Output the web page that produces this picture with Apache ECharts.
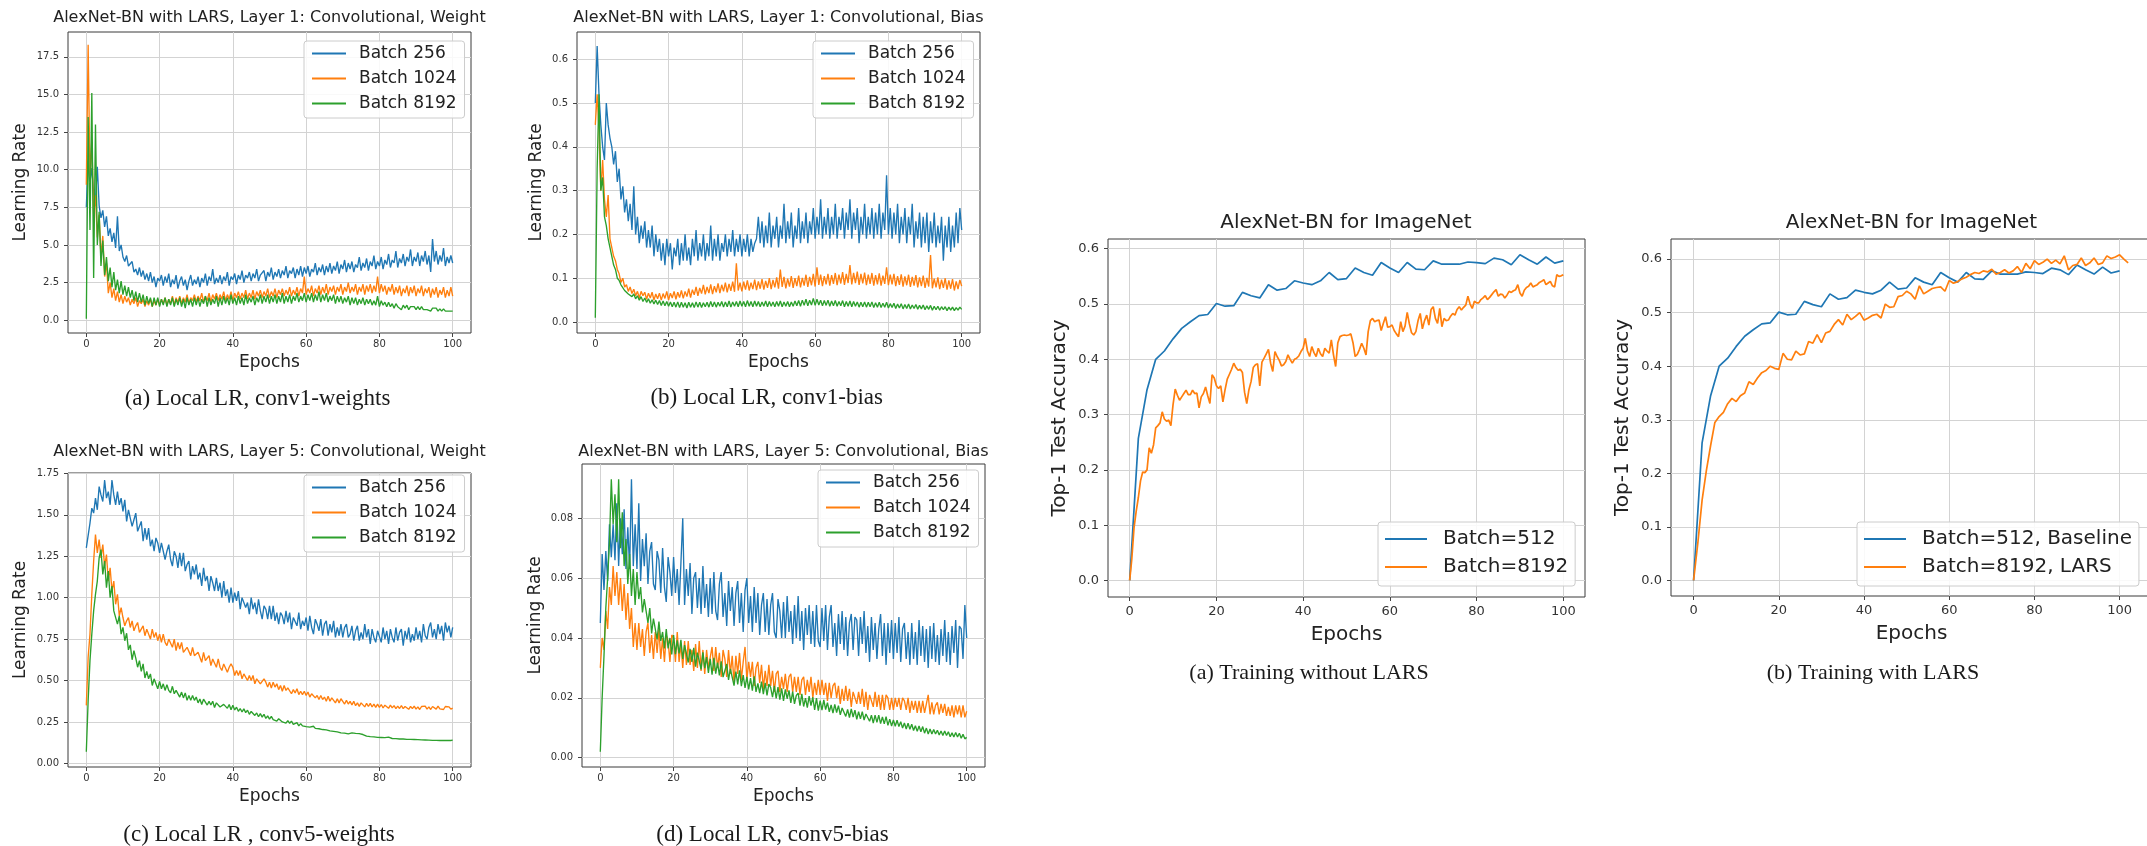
<!DOCTYPE html>
<html>
<head>
<meta charset="utf-8">
<script src="https://cdn.jsdelivr.net/npm/echarts@6/dist/echarts.min.js"></script>
<style>
  html, body { margin: 0; padding: 0; background: #ffffff; }
  #chart { width: 2147px; height: 846px; }
</style>
</head>
<body>
<div id="chart"></div>
<script>
// ---------- sampling grids (epochs) ----------
const halfEpochs = [];
for (let i = 0; i <= 200; i++) halfEpochs.push(i / 2);
const evalEpochs = [];
for (let e = 0; e <= 100; e += 2) evalEpochs.push(e);
const larsEpochs = [];
for (let e = 0; e <= 102; e++) larsEpochs.push(e);

// ---------- tick labels ----------
const epochTicks = [0, 20, 40, 60, 80, 100];
const ticksConv1W = [0, 2.5, 5, 7.5, 10, 12.5, 15, 17.5];
const ticksConv1B = [0, 0.1, 0.2, 0.3, 0.4, 0.5, 0.6];
const ticksConv5W = [0, 0.25, 0.5, 0.75, 1, 1.25, 1.5, 1.75];
const ticksConv5B = [0, 0.02, 0.04, 0.06, 0.08];
const ticksAcc = [0, 0.1, 0.2, 0.3, 0.4, 0.5, 0.6];

// ---------- local LR, layer 1 weights ----------
const conv1WeightB256 = [
  7.5, 10.6, 9.2, 10.1, 8.4, 7.9, 10.2, 7.6, 6.8, 7.3, 6.2, 6.9, 5.6, 6.1, 5.2, 5.8, 4.8, 6.9, 4.6, 5.0,
  4.2, 3.9, 4.3, 3.6, 3.5, 3.9, 3.2, 3.4, 3.0, 3.5, 2.9, 3.3, 2.7, 3.1, 2.6, 3.2, 2.5, 2.9, 2.2, 2.8,
  2.6, 3.0, 2.3, 2.9, 2.5, 3.1, 2.2, 2.7, 2.4, 3.0, 2.1, 2.6, 2.9, 2.3, 2.7, 2.0, 2.6, 3.0, 2.3, 2.7,
  2.4, 2.9, 2.2, 2.8, 2.5, 3.1, 2.3, 2.9, 2.6, 3.4, 2.4, 2.8, 2.5, 3.0, 2.4, 2.9, 2.6, 3.2, 2.3, 2.9,
  2.7, 3.1, 2.4, 3.0, 2.7, 3.3, 2.5, 3.0, 2.8, 3.2, 2.6, 3.1, 2.8, 3.4, 2.6, 3.0, 2.9, 3.3, 2.6, 3.2,
  2.9, 3.5, 2.7, 3.2, 2.9, 3.4, 2.8, 3.3, 3.0, 3.6, 2.8, 3.3, 3.1, 3.5, 2.8, 3.4, 3.0, 3.6, 2.9, 3.5,
  3.1, 3.6, 2.9, 3.4, 3.2, 3.8, 3.0, 3.5, 3.2, 3.7, 3.0, 3.6, 3.2, 3.8, 3.1, 3.6, 3.3, 3.9, 3.1, 3.7,
  3.4, 4.0, 3.2, 3.8, 3.4, 3.9, 3.2, 3.7, 3.5, 4.2, 3.3, 3.8, 3.5, 4.1, 3.3, 3.9, 3.6, 4.3, 3.4, 3.9,
  3.6, 4.2, 3.4, 4.0, 3.7, 4.4, 3.5, 4.0, 3.8, 4.6, 3.5, 4.1, 3.8, 4.4, 3.6, 4.2, 3.9, 4.7, 3.6, 4.2,
  3.9, 4.5, 3.6, 4.3, 3.9, 4.6, 3.7, 4.3, 3.2, 5.4, 3.9, 4.6, 3.7, 4.3, 3.9, 4.8, 3.6, 4.2, 3.8, 4.3,
  3.8
];
const conv1WeightB1024 = [
  9.0, 18.3, 9.5, 12.0, 7.0, 8.3, 5.5, 7.0, 4.2, 5.6, 2.9, 3.8, 1.8, 2.5, 1.5, 2.1, 1.3, 1.9, 1.2, 1.7,
  1.1, 1.6, 1.2, 1.5, 1.0, 1.4, 1.1, 1.5, 0.9, 1.3, 1.1, 1.4, 0.9, 1.3, 1.0, 1.4, 0.9, 1.3, 1.0, 1.4,
  1.0, 1.4, 1.1, 1.5, 1.0, 1.4, 1.1, 1.6, 1.0, 1.5, 1.2, 1.6, 1.1, 1.5, 1.2, 1.7, 1.1, 1.5, 1.3, 1.7,
  1.2, 1.6, 1.3, 1.8, 1.2, 1.6, 1.3, 1.8, 1.2, 1.7, 1.4, 1.8, 1.3, 1.7, 1.4, 1.9, 1.3, 1.7, 1.4, 1.9,
  1.3, 1.8, 1.5, 1.9, 1.4, 1.8, 1.5, 2.0, 1.4, 1.8, 1.5, 2.0, 1.4, 1.9, 1.6, 2.0, 1.5, 1.9, 1.6, 2.1,
  1.5, 1.9, 1.6, 2.1, 1.5, 2.0, 1.7, 2.1, 1.6, 2.0, 1.7, 2.2, 1.6, 2.0, 1.7, 2.2, 1.6, 2.1, 1.8, 2.9,
  1.7, 2.1, 1.8, 2.3, 1.6, 2.1, 1.8, 2.3, 1.7, 2.2, 1.8, 2.4, 1.7, 2.2, 1.9, 2.3, 1.7, 2.2, 1.9, 2.4,
  1.7, 2.2, 1.9, 2.5, 1.8, 2.2, 1.9, 2.4, 1.7, 2.2, 1.9, 2.4, 1.7, 2.3, 1.9, 2.4, 1.8, 2.3, 1.9, 2.9,
  1.8, 2.4, 1.9, 2.3, 1.7, 2.2, 1.9, 2.4, 1.7, 2.2, 1.8, 2.3, 1.6, 2.1, 1.8, 2.3, 1.6, 2.2, 1.8, 2.3,
  1.6, 2.1, 1.8, 2.3, 1.6, 2.1, 1.8, 2.2, 1.5, 2.1, 1.7, 2.2, 1.5, 2.0, 1.7, 2.2, 1.5, 2.0, 1.6, 2.2,
  1.6
];
const conv1WeightB8192 = [
  0.1, 13.5, 6.0, 15.1, 2.8, 13.0, 5.0, 7.2, 3.6, 5.3, 3.0, 4.2, 2.6, 3.5, 2.2, 3.2, 2.0, 2.7, 1.8, 2.6,
  1.7, 2.3, 1.6, 2.2, 1.5, 2.0, 1.3, 1.9, 1.2, 1.8, 1.2, 1.7, 1.0, 1.6, 1.1, 1.5, 0.9, 1.5, 1.0, 1.5,
  0.9, 1.4, 1.0, 1.5, 0.9, 1.4, 1.0, 1.5, 0.9, 1.4, 1.0, 1.5, 0.9, 1.4, 0.8, 1.5, 1.0, 1.4, 0.9, 1.5,
  1.0, 1.5, 0.9, 1.4, 1.1, 1.6, 0.9, 1.5, 1.0, 1.4, 1.1, 1.6, 0.9, 1.5, 1.0, 1.6, 1.1, 1.5, 1.0, 1.7,
  1.1, 1.5, 1.0, 1.6, 1.1, 1.5, 1.0, 1.7, 1.1, 1.5, 1.2, 1.6, 1.0, 1.5, 1.2, 1.7, 1.1, 1.6, 1.2, 1.7,
  1.1, 1.6, 1.2, 1.7, 1.1, 1.6, 1.2, 1.8, 1.1, 1.6, 1.2, 1.7, 1.1, 1.6, 1.3, 1.8, 1.2, 1.6, 1.3, 1.8,
  1.2, 1.7, 1.3, 1.8, 1.2, 1.7, 1.3, 1.9, 1.2, 1.7, 1.3, 1.8, 1.2, 1.6, 1.3, 1.7, 1.1, 1.6, 1.2, 1.6,
  1.1, 1.5, 1.2, 1.6, 1.0, 1.5, 1.1, 1.5, 1.0, 1.4, 1.1, 1.5, 1.0, 1.4, 1.1, 1.4, 1.0, 1.3, 1.0, 1.6,
  0.9, 1.3, 1.0, 1.2, 0.9, 1.2, 0.9, 1.1, 0.8, 1.1, 0.9, 1.0, 0.7, 1.0, 0.8, 1.0, 0.7, 0.9, 0.8, 0.9,
  0.7, 0.9, 0.7, 0.9, 0.7, 0.8, 0.7, 0.8, 0.6, 0.8, 0.7, 0.8, 0.6, 0.75, 0.6, 0.75, 0.6, 0.7, 0.6, 0.7,
  0.6
];

// ---------- local LR, layer 1 bias ----------
const conv1BiasB256 = [
  0.50, 0.63, 0.52, 0.45, 0.40, 0.37, 0.50, 0.45, 0.42, 0.40, 0.36, 0.39, 0.32, 0.35, 0.28, 0.31, 0.25, 0.28, 0.23, 0.27,
  0.21, 0.31, 0.20, 0.24, 0.18, 0.22, 0.19, 0.23, 0.17, 0.21, 0.17, 0.22, 0.15, 0.20, 0.16, 0.19, 0.14, 0.18, 0.13, 0.19,
  0.15, 0.18, 0.12, 0.17, 0.15, 0.19, 0.13, 0.18, 0.14, 0.20, 0.14, 0.17, 0.13, 0.19, 0.15, 0.21, 0.14, 0.18, 0.15, 0.20,
  0.14, 0.18, 0.15, 0.22, 0.14, 0.19, 0.15, 0.20, 0.14, 0.18, 0.16, 0.20, 0.15, 0.19, 0.16, 0.21, 0.15, 0.19, 0.16, 0.20,
  0.15, 0.19, 0.16, 0.20, 0.15, 0.19, 0.16, 0.18, 0.19, 0.24, 0.18, 0.23, 0.17, 0.22, 0.18, 0.25, 0.17, 0.22, 0.19, 0.24,
  0.17, 0.22, 0.19, 0.27, 0.18, 0.23, 0.19, 0.25, 0.17, 0.22, 0.19, 0.26, 0.18, 0.23, 0.19, 0.25, 0.18, 0.23, 0.20, 0.26,
  0.19, 0.24, 0.20, 0.28, 0.19, 0.24, 0.20, 0.26, 0.19, 0.24, 0.20, 0.27, 0.19, 0.24, 0.21, 0.26, 0.19, 0.25, 0.21, 0.28,
  0.19, 0.25, 0.21, 0.26, 0.18, 0.24, 0.20, 0.27, 0.19, 0.24, 0.20, 0.26, 0.19, 0.25, 0.20, 0.27, 0.19, 0.25, 0.21, 0.335,
  0.20, 0.26, 0.19, 0.25, 0.20, 0.27, 0.18, 0.24, 0.20, 0.26, 0.18, 0.24, 0.20, 0.27, 0.17, 0.23, 0.19, 0.25, 0.17, 0.24,
  0.18, 0.25, 0.16, 0.23, 0.18, 0.25, 0.17, 0.22, 0.18, 0.24, 0.14, 0.22, 0.17, 0.24, 0.16, 0.22, 0.17, 0.25, 0.18, 0.26,
  0.21
];
const conv1BiasB1024 = [
  0.45, 0.52, 0.44, 0.30, 0.37, 0.28, 0.24, 0.29, 0.19, 0.17, 0.15, 0.14, 0.12, 0.11, 0.09, 0.10, 0.08, 0.085, 0.07, 0.08,
  0.065, 0.075, 0.06, 0.07, 0.055, 0.07, 0.06, 0.068, 0.052, 0.066, 0.055, 0.068, 0.05, 0.064, 0.053, 0.066, 0.05, 0.065, 0.054, 0.07,
  0.05, 0.066, 0.055, 0.07, 0.052, 0.068, 0.056, 0.072, 0.054, 0.07, 0.058, 0.076, 0.056, 0.074, 0.062, 0.08, 0.06, 0.078, 0.065, 0.085,
  0.063, 0.08, 0.066, 0.086, 0.064, 0.082, 0.068, 0.088, 0.066, 0.085, 0.07, 0.09, 0.068, 0.087, 0.071, 0.092, 0.069, 0.134, 0.072, 0.09,
  0.07, 0.092, 0.074, 0.095, 0.072, 0.09, 0.075, 0.097, 0.073, 0.093, 0.076, 0.098, 0.074, 0.094, 0.078, 0.1, 0.075, 0.096, 0.079, 0.102,
  0.076, 0.12, 0.08, 0.103, 0.077, 0.099, 0.081, 0.105, 0.078, 0.1, 0.082, 0.106, 0.079, 0.101, 0.083, 0.108, 0.08, 0.103, 0.084, 0.11,
  0.081, 0.125, 0.085, 0.108, 0.082, 0.105, 0.086, 0.11, 0.083, 0.107, 0.087, 0.112, 0.084, 0.108, 0.088, 0.114, 0.085, 0.11, 0.089, 0.13,
  0.086, 0.112, 0.089, 0.115, 0.085, 0.11, 0.088, 0.113, 0.084, 0.108, 0.087, 0.112, 0.083, 0.107, 0.086, 0.111, 0.083, 0.106, 0.087, 0.125,
  0.084, 0.108, 0.086, 0.11, 0.082, 0.105, 0.085, 0.109, 0.081, 0.104, 0.084, 0.108, 0.08, 0.103, 0.083, 0.107, 0.079, 0.102, 0.082, 0.106,
  0.078, 0.101, 0.081, 0.153, 0.077, 0.099, 0.079, 0.102, 0.075, 0.097, 0.078, 0.1, 0.074, 0.095, 0.076, 0.098, 0.072, 0.093, 0.075, 0.096,
  0.082
];
const conv1BiasB8192 = [
  0.01, 0.35, 0.52, 0.30, 0.33, 0.24, 0.22, 0.19, 0.17, 0.15, 0.13, 0.12, 0.10, 0.095, 0.085, 0.082, 0.072, 0.075, 0.064, 0.068,
  0.058, 0.064, 0.053, 0.06, 0.05, 0.058, 0.047, 0.055, 0.045, 0.053, 0.043, 0.051, 0.041, 0.05, 0.04, 0.049, 0.038, 0.048, 0.037, 0.047,
  0.036, 0.046, 0.035, 0.045, 0.034, 0.046, 0.033, 0.045, 0.034, 0.044, 0.032, 0.045, 0.034, 0.044, 0.033, 0.046, 0.034, 0.045, 0.033, 0.044,
  0.035, 0.045, 0.034, 0.047, 0.035, 0.046, 0.034, 0.045, 0.036, 0.047, 0.034, 0.046, 0.035, 0.048, 0.034, 0.046, 0.036, 0.047, 0.035, 0.048,
  0.036, 0.047, 0.035, 0.049, 0.036, 0.047, 0.035, 0.048, 0.036, 0.047, 0.035, 0.046, 0.036, 0.048, 0.035, 0.047, 0.036, 0.046, 0.035, 0.047,
  0.036, 0.048, 0.035, 0.046, 0.036, 0.047, 0.035, 0.046, 0.036, 0.048, 0.037, 0.049, 0.036, 0.05, 0.038, 0.052, 0.037, 0.05, 0.039, 0.054,
  0.038, 0.052, 0.039, 0.05, 0.037, 0.049, 0.038, 0.05, 0.036, 0.048, 0.037, 0.049, 0.036, 0.047, 0.037, 0.049, 0.035, 0.047, 0.036, 0.048,
  0.035, 0.047, 0.036, 0.046, 0.034, 0.045, 0.035, 0.046, 0.034, 0.045, 0.035, 0.046, 0.033, 0.044, 0.034, 0.045, 0.033, 0.043, 0.034, 0.045,
  0.032, 0.042, 0.033, 0.043, 0.031, 0.041, 0.032, 0.042, 0.03, 0.04, 0.031, 0.041, 0.03, 0.039, 0.031, 0.04, 0.029, 0.038, 0.03, 0.039,
  0.028, 0.037, 0.029, 0.038, 0.027, 0.036, 0.028, 0.036, 0.027, 0.035, 0.028, 0.035, 0.026, 0.034, 0.027, 0.034, 0.026, 0.033, 0.027, 0.034,
  0.029
];

// ---------- local LR, layer 5 weights ----------
const conv5WeightB256 = [
  1.30, 1.31, 1.45, 1.54, 1.51, 1.60, 1.53, 1.67, 1.62, 1.58, 1.71, 1.60, 1.64, 1.56, 1.71, 1.62, 1.56, 1.64, 1.56, 1.60,
  1.52, 1.59, 1.46, 1.53, 1.53, 1.43, 1.47, 1.51, 1.40, 1.41, 1.46, 1.34, 1.42, 1.35, 1.42, 1.31, 1.35, 1.28, 1.36, 1.33,
  1.27, 1.33, 1.34, 1.23, 1.28, 1.32, 1.23, 1.19, 1.28, 1.25, 1.18, 1.27, 1.19, 1.27, 1.16, 1.20, 1.22, 1.11, 1.19, 1.14,
  1.20, 1.11, 1.15, 1.07, 1.18, 1.10, 1.13, 1.04, 1.13, 1.09, 1.04, 1.12, 1.04, 1.09, 1.00, 1.10, 1.01, 1.05, 0.97, 1.06,
  0.97, 1.03, 0.98, 1.04, 0.93, 1.00, 1.01, 0.94, 0.97, 0.90, 1.00, 0.93, 0.97, 0.90, 0.99, 0.92, 0.87, 0.95, 0.93, 0.87,
  0.95, 0.87, 0.95, 0.86, 0.91, 0.84, 0.91, 0.89, 0.84, 0.92, 0.85, 0.91, 0.81, 0.88, 0.89, 0.83, 0.91, 0.81, 0.86, 0.83,
  0.88, 0.80, 0.89, 0.82, 0.78, 0.87, 0.84, 0.80, 0.87, 0.77, 0.84, 0.86, 0.77, 0.84, 0.79, 0.86, 0.76, 0.82, 0.77, 0.84,
  0.76, 0.82, 0.84, 0.76, 0.78, 0.83, 0.74, 0.80, 0.83, 0.74, 0.79, 0.75, 0.84, 0.76, 0.81, 0.72, 0.81, 0.76, 0.73, 0.80,
  0.79, 0.73, 0.82, 0.75, 0.80, 0.72, 0.81, 0.76, 0.73, 0.82, 0.74, 0.79, 0.81, 0.71, 0.80, 0.75, 0.82, 0.73, 0.78, 0.74,
  0.82, 0.75, 0.80, 0.73, 0.84, 0.77, 0.75, 0.82, 0.85, 0.76, 0.81, 0.75, 0.84, 0.78, 0.83, 0.74, 0.85, 0.79, 0.83, 0.76,
  0.82
];
const conv5WeightB1024 = [
  0.35, 0.64, 0.78, 1.02, 1.22, 1.38, 1.27, 1.35, 1.24, 1.32, 1.19, 1.26, 1.10, 1.18, 1.04, 1.10, 0.96, 1.02, 0.89, 0.94,
  0.88, 0.83, 0.86, 0.88, 0.82, 0.86, 0.80, 0.83, 0.85, 0.79, 0.80, 0.83, 0.77, 0.81, 0.80, 0.75, 0.81, 0.76, 0.79, 0.74,
  0.78, 0.73, 0.78, 0.73, 0.71, 0.75, 0.74, 0.70, 0.75, 0.68, 0.73, 0.69, 0.73, 0.67, 0.66, 0.70, 0.69, 0.65, 0.70, 0.65,
  0.64, 0.67, 0.66, 0.61, 0.67, 0.62, 0.61, 0.65, 0.59, 0.63, 0.62, 0.58, 0.63, 0.58, 0.56, 0.60, 0.60, 0.55, 0.58, 0.60,
  0.58, 0.53, 0.56, 0.53, 0.56, 0.51, 0.54, 0.54, 0.50, 0.53, 0.50, 0.53, 0.48, 0.51, 0.52, 0.48, 0.47, 0.51, 0.49, 0.46,
  0.49, 0.455, 0.49, 0.46, 0.48, 0.445, 0.47, 0.435, 0.47, 0.44, 0.455, 0.455, 0.42, 0.445, 0.425, 0.45, 0.415, 0.435, 0.415, 0.435,
  0.41, 0.43, 0.40, 0.42, 0.425, 0.395, 0.41, 0.385, 0.41, 0.385, 0.40, 0.375, 0.405, 0.375, 0.395, 0.395, 0.365, 0.39, 0.365, 0.39,
  0.382, 0.358, 0.38, 0.358, 0.374, 0.352, 0.374, 0.348, 0.365, 0.344, 0.365, 0.36, 0.341, 0.362, 0.343, 0.362, 0.34, 0.357, 0.338, 0.357,
  0.337, 0.355, 0.334, 0.351, 0.349, 0.332, 0.351, 0.335, 0.348, 0.33, 0.345, 0.331, 0.348, 0.33, 0.343, 0.345, 0.326, 0.344, 0.33, 0.345,
  0.327, 0.341, 0.325, 0.343, 0.331, 0.345, 0.327, 0.341, 0.325, 0.343, 0.339, 0.327, 0.345, 0.329, 0.341, 0.325, 0.343, 0.331, 0.341, 0.327,
  0.333
];
const conv5WeightB8192 = [
  0.07, 0.38, 0.62, 0.78, 0.92, 1.02, 1.10, 1.24, 1.29, 1.14, 1.22, 1.06, 1.16, 1.00, 1.07, 0.92, 0.93, 0.84, 0.89, 0.78,
  0.82, 0.74, 0.785, 0.685, 0.715, 0.625, 0.68, 0.635, 0.58, 0.62, 0.555, 0.60, 0.515, 0.555, 0.51, 0.54, 0.47, 0.51, 0.51, 0.45,
  0.495, 0.45, 0.48, 0.44, 0.475, 0.44, 0.425, 0.465, 0.42, 0.44, 0.445, 0.40, 0.43, 0.395, 0.425, 0.38, 0.41, 0.38, 0.41, 0.38,
  0.40, 0.365, 0.388, 0.355, 0.387, 0.38, 0.352, 0.374, 0.352, 0.375, 0.337, 0.365, 0.367, 0.34, 0.333, 0.356, 0.364, 0.332, 0.355, 0.323,
  0.35, 0.322, 0.339, 0.314, 0.331, 0.31, 0.329, 0.306, 0.321, 0.296, 0.313, 0.312, 0.289, 0.304, 0.281, 0.30, 0.279, 0.296, 0.271, 0.286,
  0.267, 0.283, 0.264, 0.276, 0.255, 0.269, 0.27, 0.25, 0.261, 0.243, 0.258, 0.242, 0.255, 0.235, 0.246, 0.246, 0.226, 0.24, 0.226, 0.238,
  0.222, 0.234, 0.219, 0.228, 0.224, 0.211, 0.223, 0.209, 0.218, 0.204, 0.213, 0.202, 0.211, 0.196, 0.204, 0.193, 0.202, 0.19, 0.197, 0.184,
  0.193, 0.182, 0.189, 0.178, 0.185, 0.184, 0.174, 0.181, 0.173, 0.179, 0.169, 0.174, 0.174, 0.164, 0.17, 0.161, 0.169, 0.16, 0.165, 0.157,
  0.163, 0.156, 0.162, 0.155, 0.153, 0.158, 0.156, 0.15, 0.155, 0.149, 0.153, 0.147, 0.151, 0.147, 0.151, 0.145, 0.149, 0.145, 0.149, 0.144,
  0.147, 0.143, 0.147, 0.142, 0.145, 0.141, 0.144, 0.14, 0.145, 0.139, 0.143, 0.139, 0.143, 0.138, 0.142, 0.138, 0.143, 0.138, 0.142, 0.138,
  0.14
];

// ---------- local LR, layer 5 bias ----------
const conv5BiasB256 = [
  0.045, 0.068, 0.056, 0.069, 0.059, 0.078, 0.067, 0.078, 0.066, 0.085, 0.064, 0.080, 0.068, 0.083, 0.063, 0.077, 0.063, 0.093, 0.064, 0.078,
  0.063, 0.085, 0.059, 0.073, 0.064, 0.075, 0.058, 0.069, 0.072, 0.058, 0.056, 0.069, 0.066, 0.055, 0.070, 0.057, 0.052, 0.067, 0.062, 0.054,
  0.067, 0.055, 0.063, 0.051, 0.065, 0.080, 0.051, 0.063, 0.054, 0.065, 0.048, 0.060, 0.062, 0.050, 0.060, 0.048, 0.064, 0.050, 0.058, 0.047,
  0.060, 0.048, 0.062, 0.049, 0.046, 0.058, 0.062, 0.047, 0.055, 0.044, 0.059, 0.049, 0.057, 0.044, 0.055, 0.059, 0.045, 0.055, 0.042, 0.056,
  0.060, 0.045, 0.054, 0.042, 0.057, 0.045, 0.055, 0.041, 0.051, 0.055, 0.042, 0.053, 0.041, 0.051, 0.055, 0.042, 0.040, 0.053, 0.049, 0.040,
  0.052, 0.040, 0.054, 0.042, 0.049, 0.038, 0.051, 0.040, 0.054, 0.039, 0.049, 0.036, 0.050, 0.041, 0.051, 0.038, 0.049, 0.037, 0.051, 0.039,
  0.037, 0.050, 0.039, 0.051, 0.036, 0.047, 0.051, 0.037, 0.045, 0.034, 0.048, 0.038, 0.049, 0.036, 0.047, 0.034, 0.045, 0.048, 0.036, 0.047,
  0.046, 0.034, 0.047, 0.038, 0.049, 0.035, 0.044, 0.032, 0.047, 0.036, 0.045, 0.033, 0.043, 0.048, 0.034, 0.045, 0.031, 0.045, 0.035, 0.046,
  0.033, 0.045, 0.035, 0.047, 0.032, 0.043, 0.045, 0.033, 0.042, 0.031, 0.045, 0.033, 0.042, 0.031, 0.046, 0.034, 0.044, 0.032, 0.043, 0.030,
  0.044, 0.033, 0.045, 0.032, 0.041, 0.031, 0.043, 0.034, 0.046, 0.032, 0.042, 0.031, 0.044, 0.035, 0.046, 0.030, 0.044, 0.043, 0.033, 0.051,
  0.040
];
const conv5BiasB1024 = [
  0.030, 0.040, 0.036, 0.049, 0.043, 0.057, 0.051, 0.064, 0.054, 0.062, 0.051, 0.060, 0.049, 0.058, 0.046, 0.055, 0.043, 0.050, 0.037, 0.045,
  0.036, 0.045, 0.037, 0.043, 0.034, 0.042, 0.045, 0.035, 0.041, 0.033, 0.042, 0.035, 0.043, 0.033, 0.040, 0.032, 0.041, 0.039, 0.032, 0.041,
  0.040, 0.032, 0.042, 0.032, 0.038, 0.030, 0.039, 0.031, 0.039, 0.031, 0.036, 0.029, 0.038, 0.030, 0.039, 0.029, 0.036, 0.028, 0.036, 0.030,
  0.030, 0.037, 0.029, 0.037, 0.030, 0.035, 0.027, 0.036, 0.033, 0.027, 0.036, 0.028, 0.034, 0.025, 0.034, 0.028, 0.035, 0.026, 0.032, 0.037,
  0.026, 0.032, 0.027, 0.032, 0.024, 0.030, 0.032, 0.025, 0.031, 0.023, 0.029, 0.024, 0.031, 0.024, 0.029, 0.022, 0.028, 0.029, 0.022, 0.027,
  0.023, 0.028, 0.022, 0.027, 0.028, 0.022, 0.027, 0.022, 0.027, 0.021, 0.026, 0.027, 0.021, 0.026, 0.022, 0.027, 0.020, 0.025, 0.021, 0.026,
  0.021, 0.026, 0.021, 0.025, 0.019, 0.025, 0.020, 0.024, 0.025, 0.020, 0.024, 0.018, 0.023, 0.019, 0.024, 0.019, 0.023, 0.017, 0.022, 0.022,
  0.018, 0.022, 0.018, 0.023, 0.017, 0.022, 0.016, 0.021, 0.021, 0.017, 0.022, 0.017, 0.021, 0.016, 0.021, 0.016, 0.021, 0.020, 0.016, 0.020,
  0.016, 0.020, 0.017, 0.020, 0.016, 0.020, 0.019, 0.016, 0.020, 0.015, 0.019, 0.016, 0.019, 0.015, 0.019, 0.015, 0.019, 0.015, 0.018, 0.021,
  0.0145, 0.0185, 0.0145, 0.0175, 0.0185, 0.0145, 0.018, 0.015, 0.018, 0.014, 0.017, 0.014, 0.0175, 0.0135, 0.0175, 0.0145, 0.0175, 0.0135, 0.0175, 0.0135,
  0.0155
];
const conv5BiasB8192 = [
  0.002, 0.020, 0.034, 0.050, 0.060, 0.072, 0.093, 0.078, 0.088, 0.072, 0.093, 0.070, 0.082, 0.064, 0.073, 0.058, 0.068, 0.054, 0.063, 0.051,
  0.062, 0.053, 0.057, 0.0485, 0.053, 0.0535, 0.045, 0.050, 0.0415, 0.0465, 0.0465, 0.0395, 0.0455, 0.039, 0.042, 0.0365, 0.043, 0.0365, 0.040, 0.0345,
  0.041, 0.0346, 0.0392, 0.0348, 0.0394, 0.033, 0.0376, 0.0382, 0.0318, 0.0364, 0.032, 0.0367, 0.0304, 0.0351, 0.0348, 0.0295, 0.0352, 0.0299, 0.0336, 0.0283,
  0.033, 0.0277, 0.0334, 0.0281, 0.0318, 0.0275, 0.0322, 0.0269, 0.0266, 0.0313, 0.026, 0.0297, 0.0294, 0.0241, 0.0288, 0.0245, 0.0292, 0.0239, 0.0276, 0.0233,
  0.027, 0.0228, 0.0266, 0.0224, 0.0272, 0.022, 0.0248, 0.0216, 0.0254, 0.0212, 0.025, 0.0208, 0.0246, 0.0234, 0.0202, 0.024, 0.0198, 0.0236, 0.0194, 0.0232,
  0.019, 0.0228, 0.0197, 0.0225, 0.0183, 0.0221, 0.018, 0.0208, 0.0216, 0.0174, 0.0213, 0.0171, 0.0199, 0.0167, 0.0206, 0.0174, 0.0202, 0.016, 0.0199, 0.0157,
  0.0191, 0.0159, 0.0193, 0.0161, 0.0184, 0.0153, 0.0176, 0.0149, 0.0178, 0.0151, 0.0174, 0.0143, 0.0166, 0.0169, 0.0138, 0.0161, 0.0134, 0.0163, 0.0136, 0.0159,
  0.0128, 0.0154, 0.013, 0.0154, 0.0126, 0.0146, 0.015, 0.0122, 0.0142, 0.0116, 0.0142, 0.0118, 0.0142, 0.0114, 0.0136, 0.0113, 0.0137, 0.0108, 0.0129, 0.0106,
  0.0126, 0.0105, 0.0125, 0.0104, 0.012, 0.0099, 0.0116, 0.0096, 0.0115, 0.0095, 0.0112, 0.0091, 0.0107, 0.0088, 0.0106, 0.0087, 0.0104, 0.0082, 0.0099, 0.0079,
  0.0096, 0.0079, 0.0094, 0.0079, 0.0092, 0.0076, 0.0089, 0.0074, 0.0089, 0.0074, 0.0087, 0.007, 0.0083, 0.0069, 0.0084, 0.0069, 0.0082, 0.0065, 0.0078, 0.0063,
  0.0068
];

// ---------- top-1 test accuracy ----------
const accBatch512 = [
  0.000, 0.257, 0.345, 0.400, 0.415, 0.437, 0.456, 0.468, 0.479, 0.481,
  0.501, 0.496, 0.497, 0.521, 0.515, 0.511, 0.535, 0.525, 0.528, 0.542,
  0.538, 0.535, 0.542, 0.557, 0.544, 0.546, 0.565, 0.557, 0.552, 0.575,
  0.565, 0.557, 0.575, 0.563, 0.562, 0.578, 0.572, 0.572, 0.572, 0.576,
  0.575, 0.573, 0.583, 0.580, 0.571, 0.589, 0.580, 0.572, 0.585, 0.574,
  0.578
];
const accBatch8192NoLars = [
  0.000, 0.040, 0.095, 0.125, 0.150, 0.180, 0.196, 0.195, 0.200, 0.240, 0.230, 0.245, 0.276, 0.280, 0.285, 0.305, 0.292, 0.288, 0.290, 0.280,
  0.318, 0.346, 0.335, 0.326, 0.332, 0.338, 0.344, 0.336, 0.336, 0.344, 0.338, 0.339, 0.312, 0.332, 0.338, 0.350, 0.334, 0.320, 0.372, 0.366,
  0.352, 0.347, 0.352, 0.323, 0.345, 0.364, 0.373, 0.382, 0.393, 0.385, 0.380, 0.382, 0.376, 0.340, 0.320, 0.345, 0.360, 0.385, 0.390, 0.392,
  0.352, 0.395, 0.402, 0.410, 0.418, 0.393, 0.378, 0.414, 0.405, 0.398, 0.388, 0.390, 0.396, 0.408, 0.400, 0.393, 0.400, 0.402, 0.406, 0.414,
  0.420, 0.438, 0.415, 0.405, 0.423, 0.412, 0.405, 0.420, 0.410, 0.405, 0.420, 0.415, 0.411, 0.435, 0.408, 0.387, 0.430, 0.441, 0.443, 0.444,
  0.443, 0.444, 0.446, 0.430, 0.405, 0.409, 0.418, 0.429, 0.420, 0.408, 0.450, 0.470, 0.474, 0.468, 0.470, 0.471, 0.452, 0.465, 0.477, 0.458,
  0.459, 0.462, 0.452, 0.446, 0.441, 0.468, 0.450, 0.460, 0.485, 0.464, 0.448, 0.444, 0.450, 0.470, 0.483, 0.455, 0.470, 0.480, 0.462, 0.490,
  0.495, 0.474, 0.465, 0.492, 0.459, 0.474, 0.470, 0.471, 0.478, 0.483, 0.480, 0.490, 0.495, 0.489, 0.494, 0.498, 0.514, 0.500, 0.492, 0.505,
  0.502, 0.502, 0.508, 0.511, 0.515, 0.508, 0.512, 0.517, 0.522, 0.526, 0.514, 0.518, 0.517, 0.511, 0.516, 0.523, 0.521, 0.524, 0.526, 0.535,
  0.520, 0.514, 0.525, 0.530, 0.532, 0.538, 0.531, 0.533, 0.535, 0.539, 0.541, 0.544, 0.535, 0.538, 0.541, 0.533, 0.531, 0.553, 0.550, 0.551,
  0.553
];
const accBatch8192Lars = [
  0.000, 0.070, 0.150, 0.205, 0.252, 0.295, 0.306, 0.314, 0.330, 0.340,
  0.334, 0.345, 0.350, 0.371, 0.366, 0.378, 0.388, 0.392, 0.400, 0.396,
  0.394, 0.424, 0.413, 0.412, 0.428, 0.421, 0.423, 0.446, 0.443, 0.459,
  0.444, 0.462, 0.465, 0.478, 0.487, 0.477, 0.497, 0.487, 0.493, 0.500,
  0.486, 0.490, 0.495, 0.497, 0.490, 0.516, 0.510, 0.511, 0.530, 0.532,
  0.540, 0.535, 0.525, 0.550, 0.535, 0.540, 0.545, 0.547, 0.548, 0.540,
  0.560, 0.555, 0.558, 0.563, 0.566, 0.571, 0.575, 0.573, 0.578, 0.576,
  0.581, 0.572, 0.575, 0.580, 0.574, 0.578, 0.586, 0.575, 0.592, 0.582,
  0.597, 0.590, 0.594, 0.600, 0.592, 0.598, 0.591, 0.606, 0.580, 0.588,
  0.590, 0.602, 0.588, 0.593, 0.602, 0.590, 0.593, 0.606, 0.601, 0.604,
  0.608, 0.600, 0.593
];

// ---------- styling ----------
const FONT = '"DejaVu Sans", "Noto Sans", sans-serif';
const SERIF = '"Liberation Serif", "DejaVu Serif", serif';
const BLUE = '#1f77b4', ORANGE = '#ff7f0e', GREEN = '#2ca02c';

const smallStyle = { tick: 10, name: 17, title: 16, legend: 17, caption: 23, line: 1.35,
  legendPad: [4, 8, 6, 8], legendGap: 8, sample: 34, sampleH: 2, textGap: 8, labelMargin: 9, xMargin: 6 };
const bigStyle = { tick: 13, name: 20, title: 20, legend: 20, caption: 22, line: 1.7,
  legendPad: [7, 7, 9, 7], legendGap: 8, sample: 42, sampleH: 2, textGap: 11, labelMargin: 9, xMargin: 8 };

// box = [left, top, right, bottom] of each plot area in pixels
const panels = [
  { box: [68, 32, 471, 333], x: [-5, 105], y: [-0.85, 19.15], yTicks: ticksConv1W, dec: 1,
    yGap: 39, xGap: 21, st: smallStyle, legend: [304, 41],
    title: 'AlexNet-BN with LARS, Layer 1: Convolutional, Weight', titlePos: [269.5, 18],
    caption: '(a) Local LR, conv1-weights', capPos: [257.5, 399], yName: 'Learning Rate',
    series: [['Batch 256', BLUE, halfEpochs, conv1WeightB256], ['Batch 1024', ORANGE, halfEpochs, conv1WeightB1024], ['Batch 8192', GREEN, halfEpochs, conv1WeightB8192]] },
  { box: [577, 32, 980, 333], x: [-5, 105], y: [-0.025, 0.662], yTicks: ticksConv1B, dec: 1,
    yGap: 32, xGap: 21, st: smallStyle, legend: [813, 41],
    title: 'AlexNet-BN with LARS, Layer 1: Convolutional, Bias', titlePos: [778.5, 18],
    caption: '(b) Local LR, conv1-bias', capPos: [766.7, 398], yName: 'Learning Rate',
    series: [['Batch 256', BLUE, halfEpochs, conv1BiasB256], ['Batch 1024', ORANGE, halfEpochs, conv1BiasB1024], ['Batch 8192', GREEN, halfEpochs, conv1BiasB8192]] },
  { box: [68, 473, 471, 767], x: [-5, 105], y: [-0.022, 1.752], yTicks: ticksConv5W, dec: 2,
    yGap: 39, xGap: 21, st: smallStyle, legend: [304, 475],
    title: 'AlexNet-BN with LARS, Layer 5: Convolutional, Weight', titlePos: [269.5, 452],
    caption: '(c) Local LR , conv5-weights', capPos: [259, 835], yName: 'Learning Rate',
    series: [['Batch 256', BLUE, halfEpochs, conv5WeightB256], ['Batch 1024', ORANGE, halfEpochs, conv5WeightB1024], ['Batch 8192', GREEN, halfEpochs, conv5WeightB8192]] },
  { box: [582, 464, 985, 767], x: [-5, 105], y: [-0.0031, 0.0981], yTicks: ticksConv5B, dec: 2,
    yGap: 38, xGap: 21, st: smallStyle, legend: [818, 470],
    title: 'AlexNet-BN with LARS, Layer 5: Convolutional, Bias', titlePos: [783.5, 452],
    caption: '(d) Local LR, conv5-bias', capPos: [772.5, 835], yName: 'Learning Rate',
    series: [['Batch 256', BLUE, halfEpochs, conv5BiasB256], ['Batch 1024', ORANGE, halfEpochs, conv5BiasB1024], ['Batch 8192', GREEN, halfEpochs, conv5BiasB8192]] },
  { box: [1108, 239, 1585, 597], x: [-5, 105], y: [-0.030, 0.6176], yTicks: ticksAcc, dec: 1,
    yGap: 38, xGap: 28, st: bigStyle, legend: [1378, 522],
    title: 'AlexNet-BN for ImageNet', titlePos: [1346, 223],
    caption: '(a) Training without LARS', capPos: [1309, 673], yName: 'Top-1 Test Accuracy',
    series: [['Batch=512', BLUE, evalEpochs, accBatch512], ['Batch=8192', ORANGE, halfEpochs, accBatch8192NoLars]] },
  { box: [1671, 239, 2152, 596], x: [-5.3, 107.6], y: [-0.029, 0.6375], yTicks: ticksAcc, dec: 1,
    yGap: 38, xGap: 28, st: bigStyle, legend: [1857, 522],
    title: 'AlexNet-BN for ImageNet', titlePos: [1911.5, 223],
    caption: '(b) Training with LARS', capPos: [1873, 673], yName: 'Top-1 Test Accuracy',
    series: [['Batch=512, Baseline', BLUE, evalEpochs, accBatch512], ['Batch=8192, LARS', ORANGE, larsEpochs, accBatch8192Lars]] }
];

function pairs(xs, ys) { return ys.map((v, i) => [xs[i], v]); }

const option = {
  backgroundColor: '#ffffff',
  animation: false,
  grid: [], xAxis: [], yAxis: [], series: [], legend: [], graphic: []
};

panels.forEach((p, i) => {
  const st = p.st;
  option.grid.push({
    left: p.box[0], top: p.box[1], width: p.box[2] - p.box[0], height: p.box[3] - p.box[1],
    show: true, borderColor: '#3a3a3a', borderWidth: 1, backgroundColor: 'transparent',
    containLabel: false, outerBoundsMode: 'none'
  });
  option.xAxis.push({
    type: 'value', gridIndex: i, min: p.x[0], max: p.x[1],
    name: 'Epochs', nameLocation: 'middle', nameGap: p.xGap,
    nameTextStyle: { fontFamily: FONT, fontSize: st.name, color: '#222' },
    axisLine: { show: false, onZero: false },
    axisTick: { show: true, customValues: epochTicks, length: 4, lineStyle: { color: '#444' } },
    axisLabel: { customValues: epochTicks, fontFamily: FONT, fontSize: st.tick, color: '#333', margin: st.xMargin,
      formatter: v => String(Math.round(v)) },
    splitLine: { show: true, lineStyle: { color: '#d3d3d3', width: 1 } }
  });
  option.yAxis.push({
    type: 'value', gridIndex: i, min: p.y[0], max: p.y[1],
    name: p.yName, nameLocation: 'middle', nameGap: p.yGap, nameRotate: 90,
    nameTextStyle: { fontFamily: FONT, fontSize: st.name, color: '#222' },
    axisLine: { show: false, onZero: false },
    axisTick: { show: true, customValues: p.yTicks, length: 4, lineStyle: { color: '#444' } },
    axisLabel: { customValues: p.yTicks, fontFamily: FONT, fontSize: st.tick, color: '#333', margin: st.labelMargin,
      formatter: v => v.toFixed(p.dec) },
    splitLine: { show: true, lineStyle: { color: '#d3d3d3', width: 1 } }
  });
  p.series.forEach((s, k) => {
    option.series.push({
      type: 'line', name: s[0], xAxisIndex: i, yAxisIndex: i,
      data: pairs(s[2], s[3]),
      showSymbol: false, symbol: 'none', silent: true, animation: false, z: 2 + k,
      lineStyle: { color: s[1], width: st.line }, itemStyle: { color: s[1] }
    });
  });
  option.legend.push({
    orient: 'vertical', left: p.legend[0], top: p.legend[1], selectedMode: false,
    data: p.series.map(s => s[0]),
    backgroundColor: 'rgba(255,255,255,0.85)', borderColor: '#cccccc', borderWidth: 1, borderRadius: 3,
    padding: st.legendPad, itemGap: st.legendGap, itemWidth: st.sample, itemHeight: st.sampleH, icon: 'rect',
    textStyle: { fontFamily: FONT, fontSize: st.legend, color: '#222', padding: [0, 0, 0, st.textGap] }
  });
  option.graphic.push({
    type: 'text', x: p.titlePos[0], y: p.titlePos[1], silent: true,
    style: { text: p.title, font: st.title + 'px ' + FONT, fill: '#222',
      align: 'center', verticalAlign: 'middle', textAlign: 'center', textVerticalAlign: 'middle' }
  });
  option.graphic.push({
    type: 'text', x: p.capPos[0], y: p.capPos[1], silent: true,
    style: { text: p.caption, font: st.caption + 'px ' + SERIF, fill: '#1a1a1a',
      align: 'center', verticalAlign: 'middle', textAlign: 'center', textVerticalAlign: 'middle' }
  });
});

const chart = echarts.init(document.getElementById('chart'), null, { renderer: 'canvas', width: 2147, height: 846 });
chart.setOption(option);
</script>
</body>
</html>
